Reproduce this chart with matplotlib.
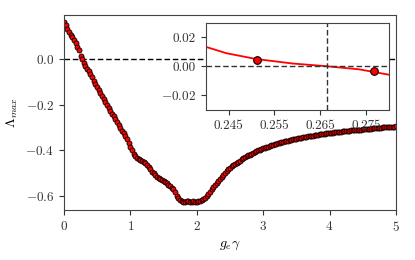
import numpy as np
import matplotlib
matplotlib.use("Agg")
import matplotlib.pyplot as plt

plt.rcParams["font.family"] = "serif"
plt.rcParams["font.serif"] = ["cmr10"]
plt.rcParams["mathtext.fontset"] = "cm"
plt.rcParams["axes.formatter.use_mathtext"] = True

# main curve: largest Lyapunov exponent vs g_e*gamma (sampled every 0.025)
g = [0.000, 0.025, 0.050, 0.075, 0.100, 0.125, 0.150, 0.175, 0.200, 0.225,
     0.250, 0.275, 0.300, 0.325, 0.350, 0.375, 0.400, 0.425, 0.450, 0.475,
     0.500, 0.525, 0.550, 0.575, 0.600, 0.625, 0.650, 0.675, 0.700, 0.725,
     0.750, 0.775, 0.800, 0.825, 0.850, 0.875, 0.900, 0.925, 0.950, 0.975,
     1.000, 1.025, 1.050, 1.075, 1.100, 1.125, 1.150, 1.175, 1.200, 1.225,
     1.250, 1.275, 1.300, 1.325, 1.350, 1.375, 1.400, 1.425, 1.450, 1.475,
     1.500, 1.525, 1.550, 1.575, 1.600, 1.625, 1.650, 1.675, 1.700, 1.725,
     1.750, 1.775, 1.800, 1.825, 1.850, 1.875, 1.900, 1.925, 1.950, 1.975,
     2.000, 2.025, 2.050, 2.075, 2.100, 2.125, 2.150, 2.175, 2.200, 2.225,
     2.250, 2.275, 2.300, 2.325, 2.350, 2.375, 2.400, 2.425, 2.450, 2.475,
     2.500, 2.525, 2.550, 2.575, 2.600, 2.625, 2.650, 2.675, 2.700, 2.725,
     2.750, 2.775, 2.800, 2.825, 2.850, 2.875, 2.900, 2.925, 2.950, 2.975,
     3.000, 3.025, 3.050, 3.075, 3.100, 3.125, 3.150, 3.175, 3.200, 3.225,
     3.250, 3.275, 3.300, 3.325, 3.350, 3.375, 3.400, 3.425, 3.450, 3.475,
     3.500, 3.525, 3.550, 3.575, 3.600, 3.625, 3.650, 3.675, 3.700, 3.725,
     3.750, 3.775, 3.800, 3.825, 3.850, 3.875, 3.900, 3.925, 3.950, 3.975,
     4.000, 4.025, 4.050, 4.075, 4.100, 4.125, 4.150, 4.175, 4.200, 4.225,
     4.250, 4.275, 4.300, 4.325, 4.350, 4.375, 4.400, 4.425, 4.450, 4.475,
     4.500, 4.525, 4.550, 4.575, 4.600, 4.625, 4.650, 4.675, 4.700, 4.725,
     4.750, 4.775, 4.800, 4.825, 4.850, 4.875, 4.900, 4.925, 4.950, 4.975,
     5.000]
lam = [0.158, 0.145, 0.130, 0.116, 0.103, 0.093, 0.082, 0.068, 0.052, 0.036,
       0.012, -0.003, -0.018, -0.031, -0.043, -0.055, -0.068, -0.082, -0.096, -0.110,
       -0.124, -0.137, -0.150, -0.163, -0.176, -0.189, -0.202, -0.216, -0.230, -0.241,
       -0.252, -0.264, -0.276, -0.289, -0.302, -0.314, -0.326, -0.338, -0.352, -0.367,
       -0.384, -0.400, -0.414, -0.424, -0.431, -0.437, -0.441, -0.445, -0.450, -0.456,
       -0.463, -0.472, -0.482, -0.492, -0.500, -0.508, -0.515, -0.521, -0.526, -0.530,
       -0.534, -0.539, -0.544, -0.549, -0.555, -0.562, -0.570, -0.582, -0.598, -0.609,
       -0.616, -0.620, -0.623, -0.625, -0.622, -0.620, -0.623, -0.625, -0.621, -0.624,
       -0.625, -0.622, -0.620, -0.617, -0.613, -0.607, -0.600, -0.591, -0.581, -0.570,
       -0.561, -0.552, -0.543, -0.533, -0.524, -0.514, -0.505, -0.497, -0.489, -0.482,
       -0.475, -0.470, -0.464, -0.459, -0.454, -0.449, -0.444, -0.439, -0.434, -0.430,
       -0.426, -0.422, -0.418, -0.414, -0.410, -0.406, -0.403, -0.399, -0.396, -0.393,
       -0.390, -0.388, -0.385, -0.383, -0.380, -0.378, -0.375, -0.373, -0.370, -0.368,
       -0.366, -0.364, -0.362, -0.360, -0.358, -0.357, -0.355, -0.353, -0.351, -0.350,
       -0.348, -0.347, -0.345, -0.344, -0.342, -0.341, -0.340, -0.338, -0.337, -0.336,
       -0.335, -0.334, -0.333, -0.331, -0.330, -0.329, -0.328, -0.327, -0.326, -0.325,
       -0.324, -0.323, -0.322, -0.321, -0.320, -0.319, -0.318, -0.318, -0.317, -0.316,
       -0.315, -0.315, -0.314, -0.313, -0.312, -0.312, -0.311, -0.310, -0.309, -0.309,
       -0.308, -0.307, -0.306, -0.306, -0.305, -0.305, -0.304, -0.303, -0.302, -0.302,
       -0.301, -0.301, -0.300, -0.300, -0.299, -0.298, -0.297, -0.297, -0.296, -0.296,
       -0.295]

# inset: zoom around the zero crossing
g_fit = [0.2400, 0.2445, 0.2510, 0.2590, 0.2662, 0.2735, 0.2800]
lam_fit = [0.0135, 0.0091, 0.0051, 0.0020, 0.0002, -0.0020, -0.0057]
g_pts = [0.2512, 0.2767]
lam_pts = [0.0047, -0.0029]
g_cross = 0.2665

fig = plt.figure(figsize=(4.15, 2.6), dpi=100)
ax = fig.add_axes([0.154, 0.192, 0.80, 0.750])
ax.axhline(0, color="black", ls="--", lw=1.0, dashes=(4, 2))
ax.plot(g, lam, "o", color="red", mec="black", ms=3.6, mew=0.6)
ax.set_xlim(0, 5)
ax.set_ylim(-0.66, 0.19)
ax.set_xticks([0, 1, 2, 3, 4, 5])
ax.set_yticks([-0.6, -0.4, -0.2, 0.0])
ax.set_xlabel(r"$g_e\gamma$", fontsize=10)
ax.set_ylabel(r"$\Lambda_{max}$", fontsize=10)
ax.tick_params(labelsize=9.5, length=3.5, width=0.8, colors="#333333", labelcolor="#333333")
for s in ax.spines.values():
    s.set_color("#444444")

axin = fig.add_axes([0.496, 0.577, 0.441, 0.335])
axin.plot(g_fit, lam_fit, "-", color="red", lw=1.3)
axin.plot(g_pts, lam_pts, "o", color="red", mec="black", ms=5.5, mew=0.8)
axin.axhline(0, color="#333333", ls="--", lw=1.0, dashes=(4, 2))
axin.axvline(g_cross, color="#333333", ls="--", lw=1.0, dashes=(4, 2))
axin.set_xlim(0.24, 0.28)
axin.set_ylim(-0.03, 0.03)
axin.set_xticks([0.245, 0.255, 0.265, 0.275])
axin.set_xticklabels(["0.245", "0.255", "0.265", "0.275"])
axin.set_yticks([-0.02, 0.0, 0.02])
axin.set_yticklabels([r"$-0.02$", "0.00", "0.02"])
axin.tick_params(labelsize=9.5, length=3.5, width=0.8, colors="#333333", labelcolor="#333333")
for s in axin.spines.values():
    s.set_color("#444444")

fig.savefig("out.png", dpi=100)
